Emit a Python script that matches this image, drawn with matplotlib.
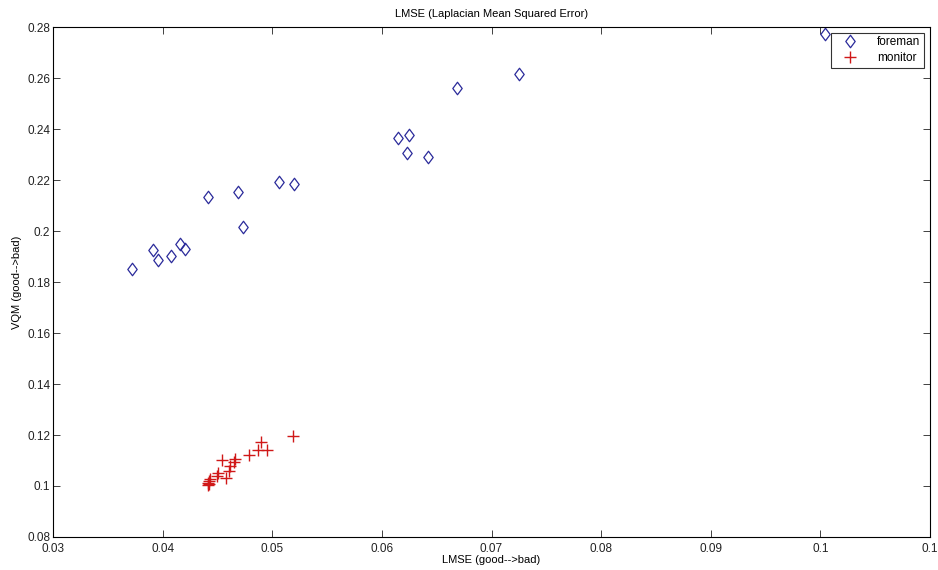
import matplotlib
matplotlib.use("Agg")
import matplotlib.pyplot as plt
from matplotlib.path import Path

# foreman (diamonds)
foreman_x = [0.03725, 0.03912, 0.03957, 0.04079, 0.04161, 0.04203, 0.04418, 0.04691, 0.04736,
             0.05057, 0.05197, 0.06145, 0.06245, 0.06230, 0.06424, 0.06682, 0.07248, 0.10040]
foreman_y = [0.1851, 0.1924, 0.1886, 0.1903, 0.1949, 0.1929, 0.2132, 0.2152, 0.2015,
             0.2191, 0.2184, 0.2365, 0.2375, 0.2307, 0.2289, 0.2559, 0.2617, 0.2771]

# monitor (plus)
monitor_x = [0.05191, 0.04900, 0.04873, 0.04948, 0.04785, 0.04658, 0.04648, 0.04545, 0.04618,
             0.04609, 0.04579, 0.04503, 0.04494, 0.04436, 0.04421, 0.04415, 0.04412, 0.04420]
monitor_y = [0.1195, 0.1172, 0.1143, 0.1140, 0.1120, 0.1106, 0.1095, 0.1101, 0.1077,
             0.1060, 0.1033, 0.1050, 0.1040, 0.1026, 0.1020, 0.1013, 0.1005, 0.1009]

xticks = [0.03, 0.04, 0.05, 0.06, 0.07, 0.08, 0.09, 0.10, 0.11]
xtick_labels = ["0.03", "0.04", "0.05", "0.06", "0.07", "0.08", "0.09", "0.1", "0.1"]
yticks = [0.08, 0.10, 0.12, 0.14, 0.16, 0.18, 0.20, 0.22, 0.24, 0.26, 0.28]
ytick_labels = ["0.08", "0.1", "0.12", "0.14", "0.16", "0.18", "0.2", "0.22", "0.24", "0.26", "0.28"]

plt.rcParams['font.family'] = ['Liberation Sans', 'DejaVu Sans']

# matlab-like diamond, a bit taller than wide
diamond = Path([(0, 1), (0.75, 0), (0, -1), (-0.75, 0), (0, 1)], closed=True)

fig = plt.figure(figsize=(9.38, 5.70), dpi=100)
ax = fig.add_axes([0.0565, 0.0579, 0.9350, 0.8947])

ax.plot(foreman_x, foreman_y, linestyle='none', marker=diamond, markersize=9,
        markerfacecolor='none', markeredgecolor='#2a2a9a', markeredgewidth=0.9, label='foreman')
ax.plot(monitor_x, monitor_y, linestyle='none', marker='+', markersize=8,
        color='#d01818', markeredgewidth=1.0, label='monitor')

ax.set_xlim(0.03, 0.11)
ax.set_ylim(0.08, 0.28)
ax.set_xticks(xticks)
ax.set_xticklabels(xtick_labels)
ax.set_yticks(yticks)
ax.set_yticklabels(ytick_labels)
ax.tick_params(direction='in', top=True, right=True, length=5, width=0.6,
               labelsize=8.5, colors='#222222', pad=2)
ax.tick_params(axis='x', pad=4)
for s in ax.spines.values():
    s.set_linewidth(0.8)

ax.set_title("LMSE (Laplacian Mean Squared Error)", fontsize=8, pad=7)
ax.set_xlabel("LMSE (good-->bad)", fontsize=8, labelpad=0)
ax.set_ylabel("VQM (good-->bad)", fontsize=8, labelpad=4)

leg = ax.legend(loc='upper right', fontsize=8.5, frameon=True, fancybox=False,
                edgecolor='black', borderaxespad=0.5, handlelength=2.6, borderpad=0.3,
                labelspacing=0.3, handletextpad=1.0)
leg.get_frame().set_linewidth(0.8)

fig.savefig("out.png", dpi=100)
